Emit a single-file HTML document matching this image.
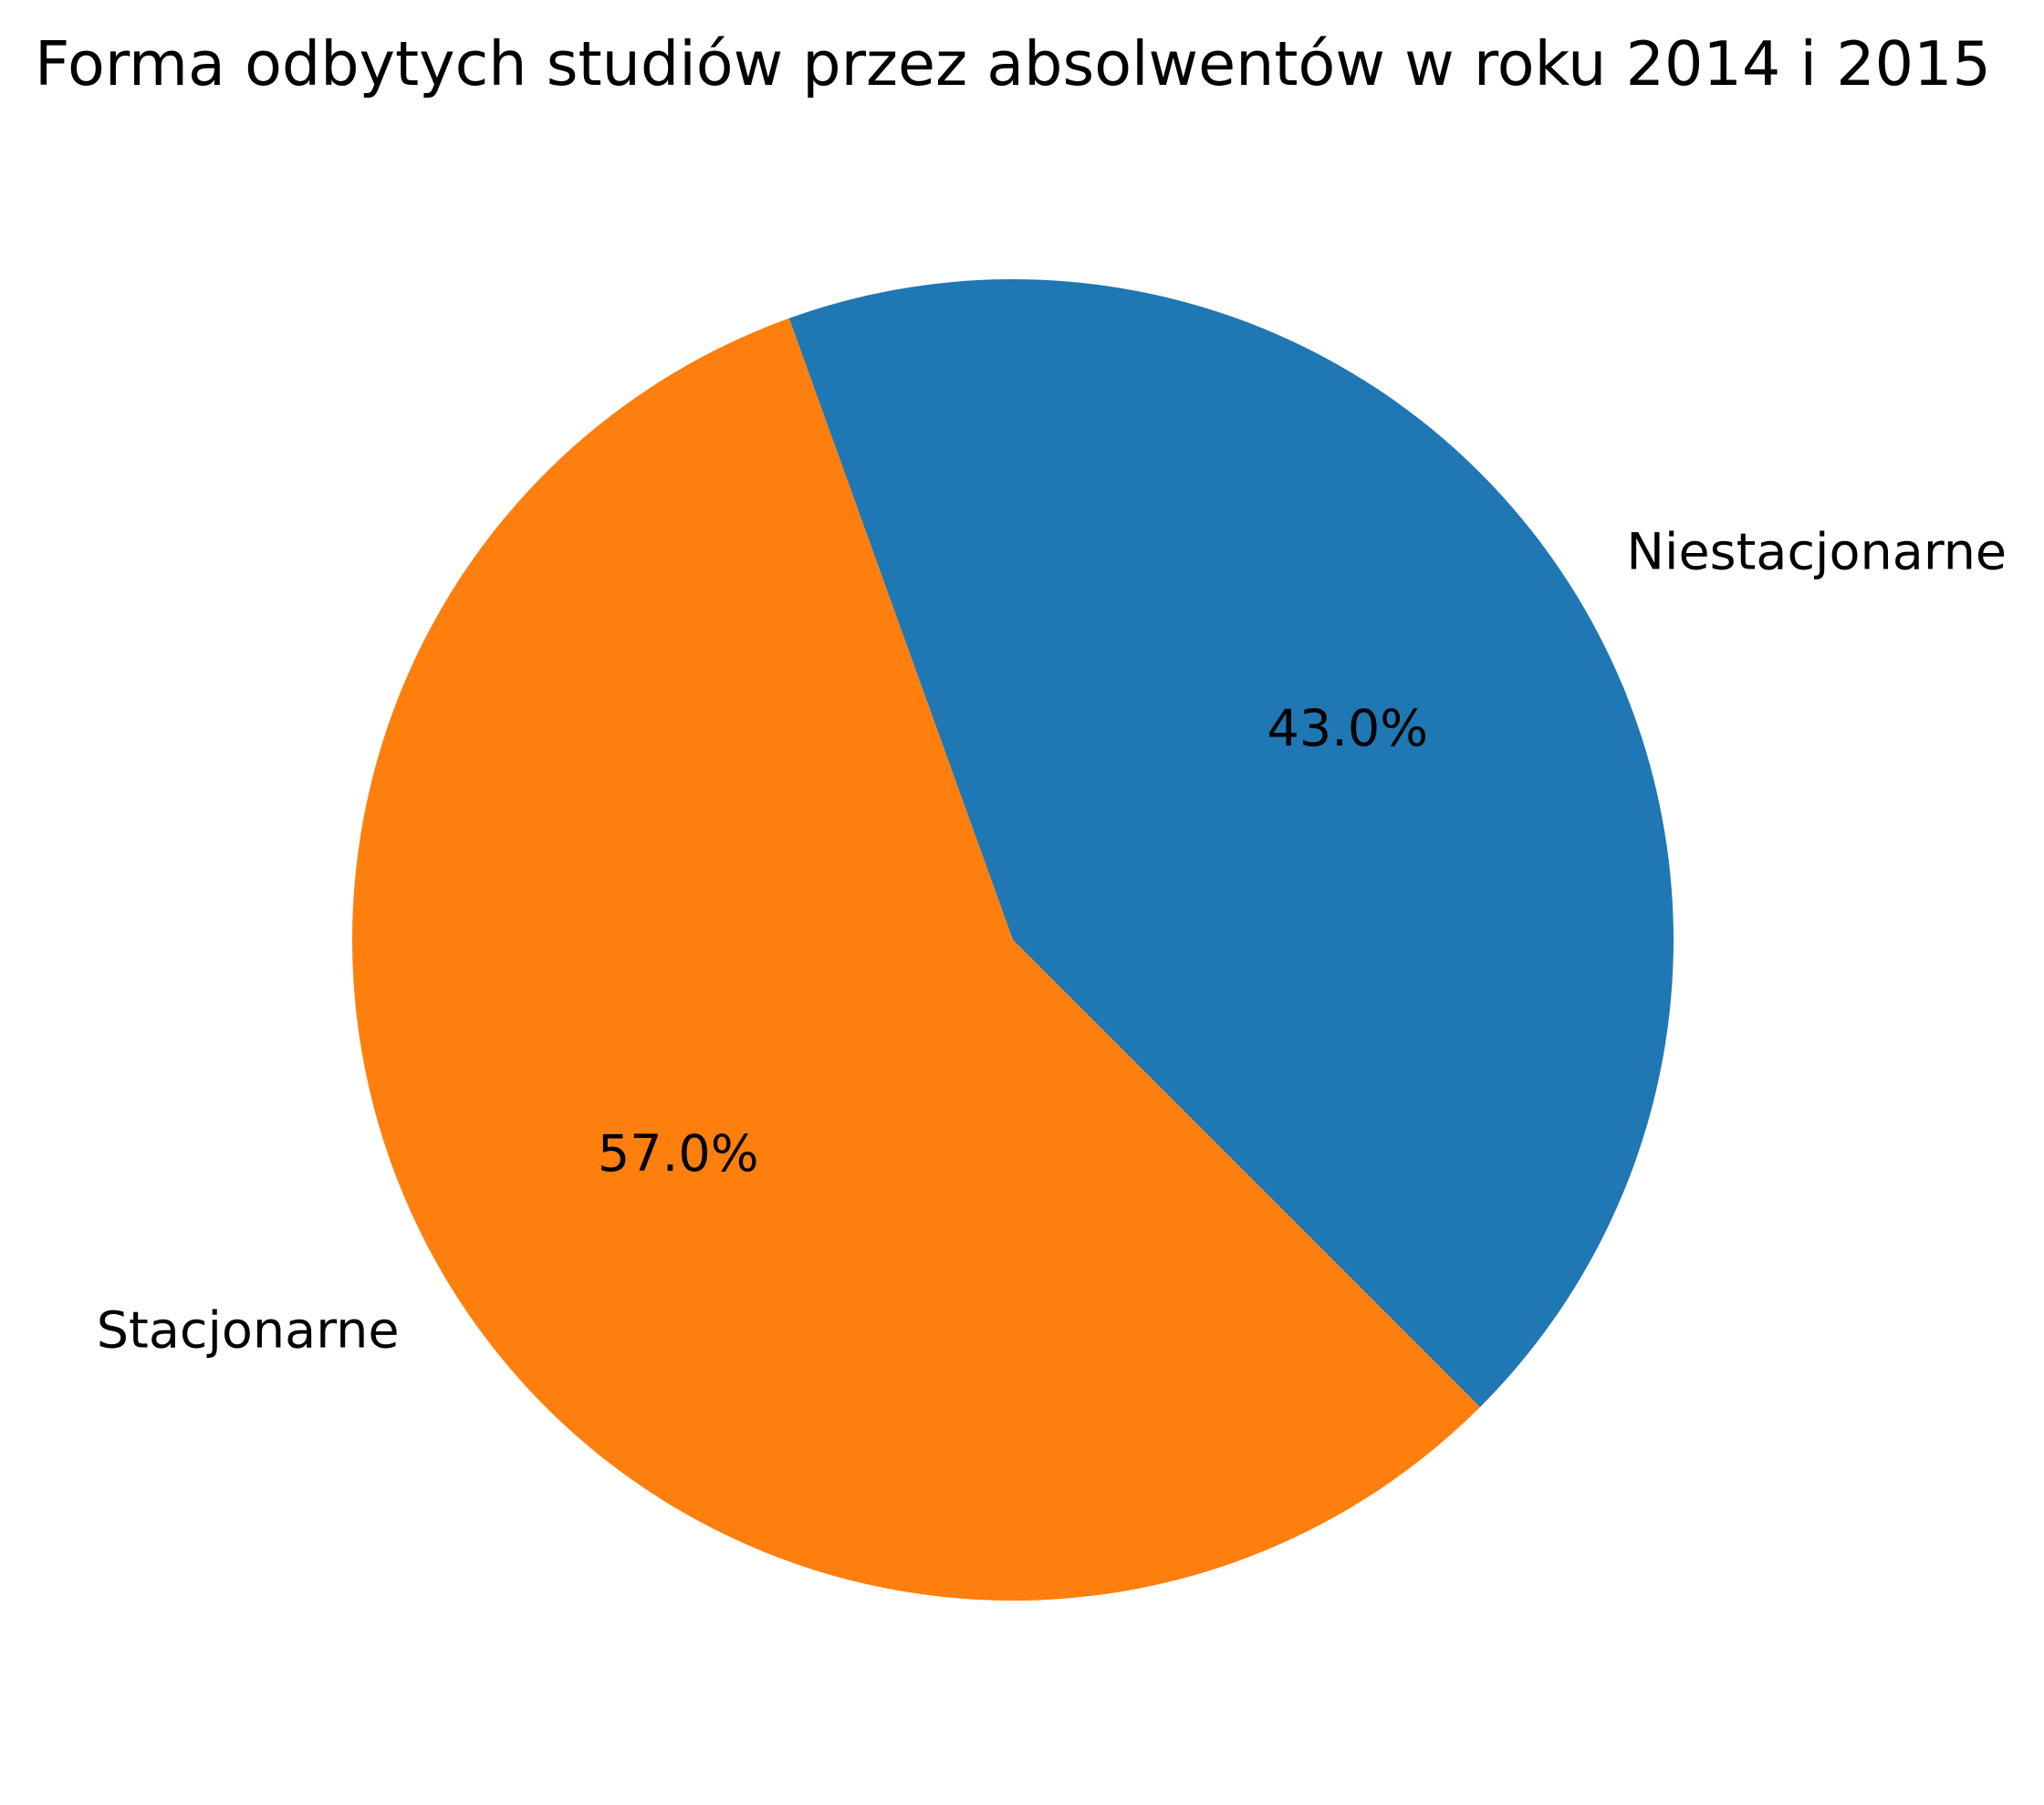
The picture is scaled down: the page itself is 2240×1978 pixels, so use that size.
<!DOCTYPE html>
<html><head><meta charset="utf-8"><style>
html,body{margin:0;padding:0;background:#fff;}
svg{display:block;font-family:"DejaVu Sans","Liberation Sans",sans-serif;}
</style></head><body>
<svg id="chart" width="2240" height="1978" viewBox="0 0 2240 1978" xmlns="http://www.w3.org/2000/svg">
<rect width="2240" height="1978" fill="#fff"/>
<text x="1110" y="93" text-anchor="middle" font-size="66.7" fill="#000">Forma odbytych studiów przez absolwentów w roku 2014 i 2015</text>
</svg>
<script>
const categories = ["Niestacjonarne", "Stacjonarne"];
const values = [43.0, 57.0];
const colors = ["#1f77b4", "#ff7f0e"];
const startAngle = -45;
const svg = document.getElementById('chart');
const NS = "http://www.w3.org/2000/svg";
const cx = 1110, cy = 1030, r = 724;
const total = values.reduce((a,b)=>a+b,0);
function pt(deg, rr){const a=deg*Math.PI/180;return [cx+rr*Math.cos(a), cy-rr*Math.sin(a)];}
let ang = startAngle;
values.forEach((v,i)=>{
  const span = v/total*360;
  const a0 = ang, a1 = ang+span;
  const p0 = pt(a0,r), p1 = pt(a1,r);
  const large = span>180?1:0;
  const path = document.createElementNS(NS,'path');
  path.setAttribute('d',`M${cx},${cy} L${p0[0]},${p0[1]} A${r},${r} 0 ${large} 0 ${p1[0]},${p1[1]} Z`);
  path.setAttribute('fill',colors[i]);
  
  
  svg.appendChild(path);
  const mid = (a0+a1)/2;
  const lp = pt(mid, r*1.1);
  const lab = document.createElementNS(NS,'text');
  lab.setAttribute('x',lp[0]); lab.setAttribute('y',lp[1]+20);
  lab.setAttribute('font-size','55.6');
  lab.setAttribute('text-anchor', Math.cos(mid*Math.PI/180)>=0?'start':'end');
  lab.textContent = categories[i];
  
  
  svg.appendChild(lab);
  const pp = pt(mid, r*0.6);
  const pct = document.createElementNS(NS,'text');
  pct.setAttribute('x',pp[0]); pct.setAttribute('y',pp[1]+20);
  pct.setAttribute('font-size','55.6');
  pct.setAttribute('text-anchor','middle');
  pct.textContent = (v/total*100).toFixed(1)+'%';
  
  
  svg.appendChild(pct);
  ang = a1;
});
</script>
</body></html>
